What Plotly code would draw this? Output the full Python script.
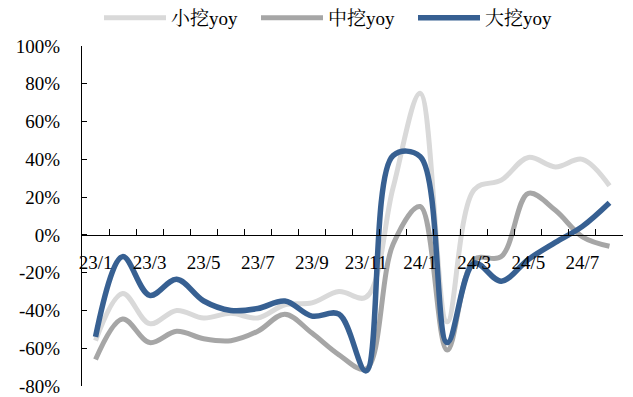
import plotly.graph_objects as go

months = ["23/1", "23/2", "23/3", "23/4", "23/5", "23/6", "23/7", "23/8", "23/9", "23/10",
          "23/11", "23/12", "24/1", "24/2", "24/3", "24/4", "24/5", "24/6", "24/7", "24/8"]
tick_labels = [m if i % 2 == 0 else "" for i, m in enumerate(months)]

y_ticks = [-80, -60, -40, -20, 0, 20, 40, 60, 80, 100]
y_tick_labels = [f"{v}%" for v in y_ticks]

small_yoy = [-56, -31, -47, -40, -44, -41.5, -44, -37, -36, -30,
             -33, 25, 75, -46, 24, 29, 41, 36, 40, 26]
medium_yoy = [-66, -44.5, -57, -51, -55, -56, -51, -42, -52, -63.5,
              -71, -5, 15, -61, -13, -11.5, 22, 13, -1, -6]
large_yoy = [-54, -11.5, -32, -23.5, -35, -40, -39, -35, -43, -42,
             -72, 42, 41.5, -57, -15, -24.5, -13, -4, 4.5, 17]

names = ["小挖yoy", "中挖yoy", "大挖yoy"]
colors = ["#D9D9D9", "#A6A6A6", "#376092"]
widths = [5, 5, 5.5]
series = [small_yoy, medium_yoy, large_yoy]

fig = go.Figure()
for name, vals, c, w in zip(names, series, colors, widths):
    fig.add_trace(go.Scatter(
        x=months, y=vals, name=name, mode="lines",
        line=dict(color=c, width=w, shape="spline", smoothing=1),
    ))

font_family = "Liberation Serif, Times New Roman, Noto Serif CJK SC, Noto Sans CJK SC, serif"

fig.update_layout(
    width=633, height=397,
    margin=dict(l=82, r=10, t=46, b=11, autoexpand=False),
    paper_bgcolor="white", plot_bgcolor="white",
    font=dict(family=font_family, size=19, color="black"),
    showlegend=True,
    legend=dict(
        orientation="h", xref="container", x=99 / 633, xanchor="left",
        yref="container", y=1 - 18 / 397, yanchor="middle",
        font=dict(family=font_family, size=19, color="black"),
        entrywidth=80, entrywidthmode="pixels", itemwidth=62,
        bgcolor="rgba(0,0,0,0)",
    ),
    xaxis=dict(
        type="category", categoryorder="array", categoryarray=months,
        range=[-0.5, len(months) - 0.5],
        tickmode="array", tickvals=months, ticktext=tick_labels, tickangle=0,
        tickson="boundaries", ticks="inside", ticklen=6, tickcolor="black", tickwidth=1,
        ticklabelstandoff=10,
        showline=True, linecolor="black", linewidth=1,
        showgrid=False, zeroline=False,
        anchor="free", position=80 / 180,
        tickfont=dict(family=font_family, size=19, color="black"),
    ),
    yaxis=dict(
        range=[-80, 100], tickmode="array", tickvals=y_ticks, ticktext=y_tick_labels,
        ticks="inside", ticklen=5, tickcolor="black", tickwidth=1,
        ticklabelstandoff=17,
        showline=True, linecolor="black", linewidth=1,
        showgrid=False, zeroline=False,
        tickfont=dict(family=font_family, size=19, color="black"),
    ),
)

fig.write_html("out.html")
